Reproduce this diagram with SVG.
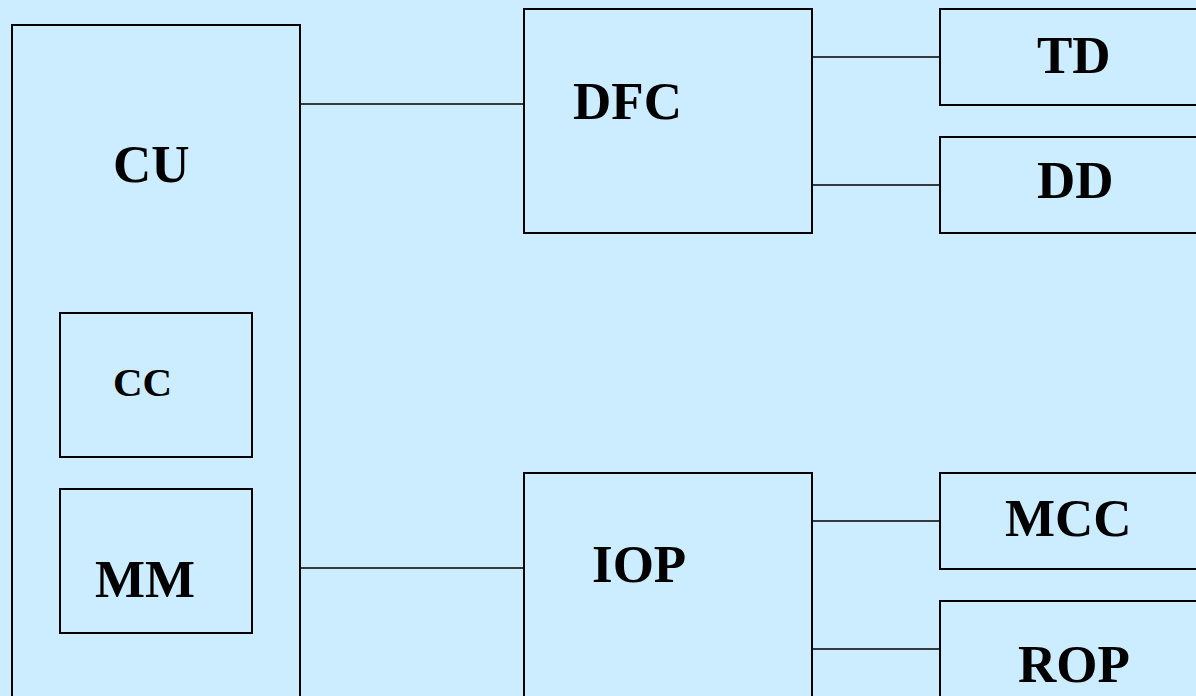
<svg xmlns="http://www.w3.org/2000/svg" width="1196" height="696" viewBox="0 0 1196 696">
<style>
.box{fill:#CCECFF;stroke:#000;stroke-width:2}
.ln{stroke:#000;stroke-width:1.6;fill:none}
.t{font-family:"Liberation Serif","Times New Roman",serif;font-weight:bold;font-size:53px;fill:#000}
.s{font-size:41px}
</style>
<rect width="1196" height="696" fill="#CCECFF"/>
<g id="connectors">
<line class="ln" x1="300" y1="104" x2="524" y2="104"/>
<line class="ln" x1="300" y1="568" x2="524" y2="568"/>
<line class="ln" x1="812" y1="57" x2="940" y2="57"/>
<line class="ln" x1="812" y1="185" x2="940" y2="185"/>
<line class="ln" x1="812" y1="521" x2="940" y2="521"/>
<line class="ln" x1="812" y1="649" x2="940" y2="649"/>
</g>
<g id="CU"><rect class="box" x="12" y="25" width="288" height="700"/><text class="t" x="113" y="182">CU</text></g>
<g id="CC"><rect class="box" x="60" y="313" width="192" height="144"/><text class="t s" x="113" y="396">CC</text></g>
<g id="MM"><rect class="box" x="60" y="489" width="192" height="144"/><text class="t" x="95" y="597">MM</text></g>
<g id="DFC"><rect class="box" x="524" y="9" width="288" height="224"/><text class="t" x="573" y="119">DFC</text></g>
<g id="IOP"><rect class="box" x="524" y="473" width="288" height="260"/><text class="t" x="592" y="582">IOP</text></g>
<g id="TD"><rect class="box" x="940" y="9" width="280" height="96"/><text class="t" x="1037" y="73">TD</text></g>
<g id="DD"><rect class="box" x="940" y="137" width="280" height="96"/><text class="t" x="1037" y="198">DD</text></g>
<g id="MCC"><rect class="box" x="940" y="473" width="280" height="96"/><text class="t" x="1005" y="536">MCC</text></g>
<g id="ROP"><rect class="box" x="940" y="601" width="280" height="120"/><text class="t" x="1018" y="682">ROP</text></g>
</svg>
